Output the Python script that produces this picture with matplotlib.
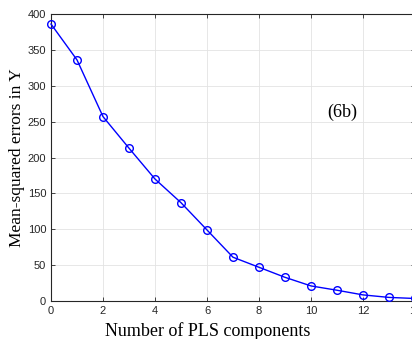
import matplotlib.pyplot as plt
import numpy as np

components = np.arange(0, 15)
mse = [386, 336, 257, 213, 170, 137, 99, 61, 47, 33, 21, 15, 8.5, 5, 3.5]

x_ticks = [0, 2, 4, 6, 8, 10, 12, 14]
y_ticks = [0, 50, 100, 150, 200, 250, 300, 350, 400]

fig = plt.figure(figsize=(4.12, 3.39), dpi=100)
ax = fig.add_axes([51 / 412, 38 / 339, 364 / 412, 287 / 339])

ax.plot(components, mse, color="blue", linewidth=1.0, marker="o",
        markersize=5.5, markerfacecolor="none", markeredgecolor="blue",
        markeredgewidth=1.0, clip_on=False, zorder=3)

ax.set_xlim(0, 14)
ax.set_ylim(0, 400)
ax.set_xticks(x_ticks)
ax.set_yticks(y_ticks)
ax.grid(True, color="#e3e3e3", linewidth=0.6)
ax.set_axisbelow(True)

for side in ax.spines.values():
    side.set_color("#262626")
    side.set_linewidth(0.8)

ax.tick_params(direction="in", length=3, width=0.6, top=True, right=True,
               labelsize=8, colors="#262626", pad=3.5)
for lab in ax.get_xticklabels() + ax.get_yticklabels():
    lab.set_fontfamily("Liberation Sans")

ax.set_xlabel("Number of PLS components", family="Liberation Serif",
              fontsize=13)
ax.xaxis.set_label_coords(0.431, -0.072)
ax.set_ylabel("Mean-squared errors in Y", family="Liberation Serif",
              fontsize=12.5, labelpad=2)

ax.text(11.2, 263, "(6b)", family="Liberation Serif", fontsize=13,
        ha="center", va="center")

fig.savefig("out.png", dpi=100)
